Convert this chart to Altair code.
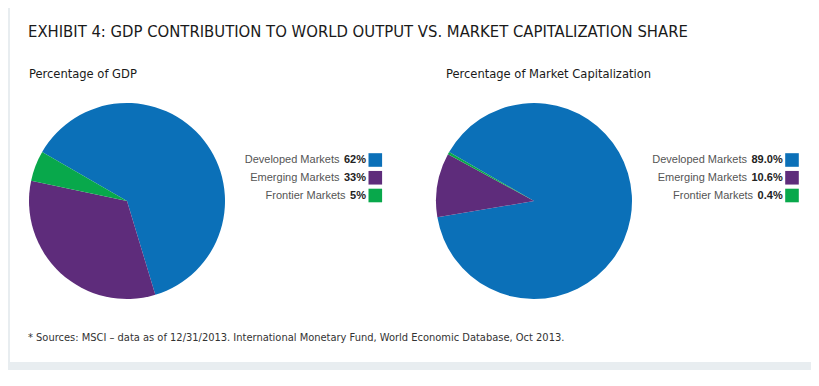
import math
import altair as alt
import pandas as pd

# ---- data ----
categories = ["Developed Markets", "Emerging Markets", "Frontier Markets"]
gdp_share = [62, 33, 5]
mcap_share = [89.0, 10.6, 0.4]
gdp_labels = ["62%", "33%", "5%"]
mcap_labels = ["89.0%", "10.6%", "0.4%"]
colors = ["#0b70b8", "#5e2c7b", "#08a84b"]

title_text = "EXHIBIT 4: GDP CONTRIBUTION TO WORLD OUTPUT VS. MARKET CAPITALIZATION SHARE"
subtitle_gdp = "Percentage of GDP"
subtitle_mcap = "Percentage of Market Capitalization"
footnote_text = ("* Sources: MSCI \u2013 data as of 12/31/2013. International Monetary Fund, "
                 "World Economic Database, Oct 2013.")

W, H = 803, 370
COND = "DejaVu Sans Condensed"
LEG = "Liberation Sans"

gdp_df = pd.DataFrame({"category": categories, "share": gdp_share,
                       "label": gdp_labels, "idx": [0, 1, 2]})
mcap_df = pd.DataFrame({"category": categories, "share": mcap_share,
                        "label": mcap_labels, "idx": [0, 1, 2]})

color_scale = alt.Scale(domain=categories, range=colors)
theta_scale = alt.Scale(domain=[0, 100], range=[5 * math.pi / 3, 11 * math.pi / 3])
y_leg = alt.Y("category:N", axis=None,
              scale=alt.Scale(type="point", domain=categories, range=[152, 187.5], padding=0))


def pie(df, cx):
    return alt.Chart(df).mark_arc(outerRadius=98).encode(
        theta=alt.Theta("share:Q", stack=True, scale=theta_scale),
        color=alt.Color("category:N", scale=color_scale, legend=None),
        order=alt.Order("idx:Q"),
        x=alt.value(cx),
        y=alt.value(193),
    )


def legend(df, right_x, swatch_x):
    vals = alt.Chart(df).mark_text(align="right", baseline="middle", font=LEG,
                                   fontSize=11, fontWeight="bold", color="#222222").encode(
        text="label:N", x=alt.value(right_x), y=y_leg)
    labs = alt.Chart(df).transform_calculate(
        lx=f"{right_x} - (length(replace(datum.label, '.', '')) - 1) * 6.1"
           f" - (indexof(datum.label, '.') >= 0 ? 3.1 : 0) - 9.8 - 4.5"
    ).mark_text(align="right", baseline="middle", font=LEG, fontSize=11,
                color="#555555").encode(
        text="category:N", x=alt.X("lx:Q", scale=None), y=y_leg)
    sw = alt.Chart(df).mark_square(size=185, opacity=1).encode(
        color=alt.Color("category:N", scale=color_scale, legend=None),
        x=alt.value(swatch_x), y=y_leg)
    return [vals, labs, sw]


def text_layer(txt, x, y, size, color, font=COND):
    return alt.Chart(pd.DataFrame({"t": [txt]})).mark_text(
        align="left", baseline="alphabetic", font=font, fontSize=size, color=color
    ).encode(text="t:N", x=alt.value(x), y=alt.value(y))


frame_left = alt.Chart(pd.DataFrame({"k": [0]})).mark_rect(color="#e8edf0").encode(
    x=alt.value(0), x2=alt.value(2), y=alt.value(0), y2=alt.value(354))
frame_bottom = alt.Chart(pd.DataFrame({"k": [0]})).mark_rect(color="#e8edf0").encode(
    x=alt.value(0), x2=alt.value(W), y=alt.value(354), y2=alt.value(362))

layers = [
    frame_left, frame_bottom,
    text_layer(title_text, 20, 29, 16.5, "#1a1a1a"),
    text_layer(subtitle_gdp, 21, 70.3, 12.8, "#1a1a1a"),
    text_layer(subtitle_mcap, 438, 70.3, 12.8, "#1a1a1a"),
    text_layer(footnote_text, 20, 333.3, 11, "#333333"),
    pie(gdp_df, 119),
    pie(mcap_df, 526),
] + legend(gdp_df, 358, 367.3) + legend(mcap_df, 774.7, 784)

chart = alt.layer(*layers).properties(
    width=W, height=H, padding=0, background="white",
    autosize=alt.AutoSizeParams(type="none"),
).configure_view(stroke=None)

chart.save("out.html", embed_options={"renderer": "svg", "actions": False})
